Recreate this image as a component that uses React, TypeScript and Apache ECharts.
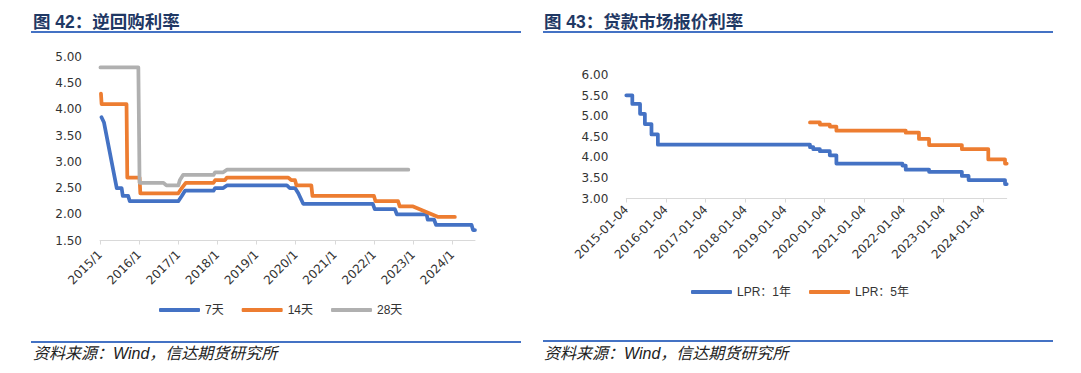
import React, { useEffect, useRef } from "react";
import * as echarts from "echarts";

// ---------- 图 42：逆回购利率 ----------
const repoTickYears = [2015, 2016, 2017, 2018, 2019, 2020, 2021, 2022, 2023, 2024];

const repo7Dates = [
  "2015-01-15", "2015-02-08", "2015-06-05", "2015-07-20", "2015-07-31", "2015-09-20",
  "2015-10-05", "2017-01-01", "2017-02-03", "2017-03-03", "2017-11-25", "2017-12-10",
  "2018-02-25", "2018-03-28", "2019-10-10", "2019-11-07", "2019-12-25", "2020-01-25",
  "2020-03-10", "2021-12-20", "2022-01-08", "2022-07-13", "2022-08-01", "2023-05-05",
  "2023-05-15", "2023-07-13", "2023-08-01", "2024-06-28", "2024-07-12", "2024-07-30",
];
const repo7Values = [
  3.85, 3.75, 2.5, 2.5, 2.35, 2.35,
  2.25, 2.25, 2.35, 2.45, 2.45, 2.5,
  2.5, 2.55, 2.55, 2.5, 2.5, 2.4,
  2.2, 2.2, 2.1, 2.1, 2.0, 2.0,
  1.9, 1.9, 1.8, 1.8, 1.7, 1.7,
];

const repo14Dates = [
  "2015-01-10", "2015-01-16", "2015-09-05", "2015-09-12", "2016-01-05", "2016-01-12",
  "2017-01-01", "2017-02-03", "2017-03-10", "2017-11-25", "2017-12-10", "2018-03-10",
  "2018-03-28", "2019-10-23", "2019-11-20", "2019-12-25", "2020-01-08", "2020-05-25",
  "2020-06-05", "2021-12-31", "2022-01-15", "2022-08-12", "2022-08-28", "2022-12-31",
  "2023-08-22", "2024-01-25",
];
const repo14Values = [
  4.3, 4.1, 4.1, 2.7, 2.7, 2.4,
  2.4, 2.5, 2.6, 2.6, 2.65, 2.65,
  2.7, 2.7, 2.65, 2.65, 2.55, 2.55,
  2.35, 2.35, 2.25, 2.25, 2.15, 2.15,
  1.95, 1.95,
];

const repo28Dates = [
  "2015-01-05", "2015-12-24", "2016-01-05", "2016-08-15", "2016-09-12", "2017-01-01",
  "2017-01-15", "2017-02-15", "2017-11-25", "2017-12-10", "2018-02-25", "2018-03-28",
  "2022-11-17",
];
const repo28Values = [
  4.8, 4.8, 2.6, 2.6, 2.55, 2.55,
  2.65, 2.75, 2.75, 2.8, 2.8, 2.85,
  2.85,
];

// ---------- 图 43：贷款市场报价利率 ----------
const lprTickYears = [2015, 2016, 2017, 2018, 2019, 2020, 2021, 2022, 2023, 2024];

// change dates (value holds until next date)
const lpr1yDates = [
  "2015-01-01", "2015-02-26", "2015-05-06", "2015-06-20", "2015-08-20", "2015-10-18",
  "2019-08-20", "2019-09-20", "2019-11-20", "2020-02-20", "2020-04-20", "2021-12-20",
  "2022-01-20", "2022-08-22", "2023-06-20", "2023-08-21", "2024-07-22", "2024-08-07",
];
const lpr1yValues = [
  5.51, 5.3, 5.06, 4.81, 4.56, 4.31,
  4.25, 4.2, 4.15, 4.05, 3.85, 3.8,
  3.7, 3.65, 3.55, 3.45, 3.35, 3.35,
];

const lpr5yDates = [
  "2019-08-20", "2019-11-20", "2020-02-20", "2020-04-20", "2022-01-20", "2022-05-20",
  "2022-08-22", "2023-06-20", "2024-02-20", "2024-07-22", "2024-08-07",
];
const lpr5yValues = [4.85, 4.8, 4.75, 4.65, 4.6, 4.45, 4.3, 4.2, 3.95, 3.85, 3.85];

const BLUE = "#4472C4";
const ORANGE = "#ED7D31";
const GRAY = "#B0B0B0";
const LABEL = "#333333";
const FONT = '"Liberation Sans", Arial, "Noto Sans CJK SC", sans-serif';
const AXIS_FONT = '"DejaVu Sans", "Noto Sans CJK SC", sans-serif';

function toYear(d: string): number {
  const [y, m, day] = d.split("-").map(Number);
  return y + (m - 1) / 12 + (day - 1) / 365;
}
function pairs(dates: string[], values: number[]) {
  return dates.map((d, i) => [toYear(d), values[i]]);
}

function lineSeries(name: string, color: string, data: number[][], idx: number, step?: string) {
  return {
    name,
    type: "line",
    xAxisIndex: idx,
    yAxisIndex: idx,
    data,
    step: step || false,
    showSymbol: false,
    symbol: "none",
    lineStyle: { color, width: 3.75, cap: "round", join: "round" },
    itemStyle: { color },
  };
}

function xAxisDef(
  idx: number,
  min: number,
  max: number,
  ticks: number[],
  margin: number,
  fmt: (v: number) => string
) {
  return {
    gridIndex: idx,
    type: "value",
    min,
    max,
    interval: 1,
    axisLine: { show: true, lineStyle: { color: "#D9D9D9", width: 1 } },
    axisTick: { show: true, length: 4, lineStyle: { color: "#D9D9D9" }, customValues: ticks },
    axisLabel: {
      customValues: ticks,
      rotate: 45,
      margin,
      fontSize: 12,
      color: LABEL,
      fontFamily: AXIS_FONT,
      formatter: (v: number) => fmt(v),
    },
    splitLine: { show: false },
  };
}

function yAxisDef(idx: number, min: number, max: number) {
  return {
    gridIndex: idx,
    type: "value",
    min,
    max,
    interval: 0.5,
    axisLine: { show: false },
    axisTick: { show: false },
    splitLine: { show: false },
    axisLabel: {
      margin: 18,
      fontSize: 12,
      color: LABEL,
      fontFamily: AXIS_FONT,
      formatter: (v: number) => v.toFixed(2),
    },
  };
}

function textEl(text: string, x: number, y: number, size: number, color: string, bold: boolean, italic: boolean) {
  return {
    type: "text",
    x,
    y,
    style: {
      text,
      fill: color,
      fontSize: size,
      fontWeight: bold ? "bold" : "normal",
      fontStyle: italic ? "italic" : "normal",
      fontFamily: FONT,
      textAlign: "left",
      textVerticalAlign: "middle",
      align: "left",
      verticalAlign: "middle",
    },
  };
}

function lineEl(x1: number, x2: number, y: number) {
  return {
    type: "line",
    shape: { x1, y1: y, x2, y2: y },
    style: { stroke: BLUE, lineWidth: 2 },
  };
}

export default function App() {
  const ref = useRef<HTMLDivElement>(null);

  useEffect(() => {
    if (!ref.current) return;
    const chart = echarts.init(ref.current, null, { renderer: "svg" });
    const option: any = {
      animation: false,
      backgroundColor: "#ffffff",
      grid: [
        { left: 100, top: 57, width: 375, height: 183.5 },
        { left: 626.3, top: 75.2, width: 380.4, height: 123.3 },
      ],
      xAxis: [
        xAxisDef(0, 2015, 2024.58, repoTickYears, 12, (v) => `${Math.round(v)}/1`),
        xAxisDef(1, 2015, 2024.6, lprTickYears, 9, (v) => `${Math.round(v)}-01-04`),
      ],
      yAxis: [yAxisDef(0, 1.5, 5), yAxisDef(1, 3, 6)],
      legend: [
        {
          data: ["7天", "14天", "28天"],
          left: 159,
          top: 304,
          padding: 0,
          icon: "roundRect",
          itemWidth: 41,
          itemHeight: 4,
          itemGap: 18,
          textStyle: { fontSize: 12, color: LABEL, fontFamily: FONT },
        },
        {
          data: ["LPR：1年", "LPR：5年"],
          left: 691,
          top: 286,
          padding: 0,
          icon: "roundRect",
          itemWidth: 41,
          itemHeight: 4,
          itemGap: 18,
          textStyle: { fontSize: 12, color: LABEL, fontFamily: FONT },
        },
      ],
      series: [
        lineSeries("7天", BLUE, pairs(repo7Dates, repo7Values), 0),
        lineSeries("14天", ORANGE, pairs(repo14Dates, repo14Values), 0),
        lineSeries("28天", GRAY, pairs(repo28Dates, repo28Values), 0),
        lineSeries("LPR：1年", BLUE, pairs(lpr1yDates, lpr1yValues), 1, "end"),
        lineSeries("LPR：5年", ORANGE, pairs(lpr5yDates, lpr5yValues), 1, "end"),
      ],
      graphic: [
        textEl("图 42：逆回购利率", 33, 22, 17.5, "#1F3864", true, false),
        lineEl(31, 521, 32),
        textEl("图 43：贷款市场报价利率", 544, 22, 17.5, "#1F3864", true, false),
        lineEl(543, 1053, 32),
        lineEl(31, 521, 342),
        textEl("资料来源：Wind，信达期货研究所", 33, 353, 16, "#222222", false, true),
        lineEl(543, 1053, 341),
        textEl("资料来源：Wind，信达期货研究所", 544, 353, 16, "#222222", false, true),
      ],
    };
    chart.setOption(option);
    return () => chart.dispose();
  }, []);

  return (
    <div
      ref={ref}
      style={{ position: "absolute", left: 0, top: 0, width: 1081, height: 373, background: "#fff" }}
    />
  );
}
